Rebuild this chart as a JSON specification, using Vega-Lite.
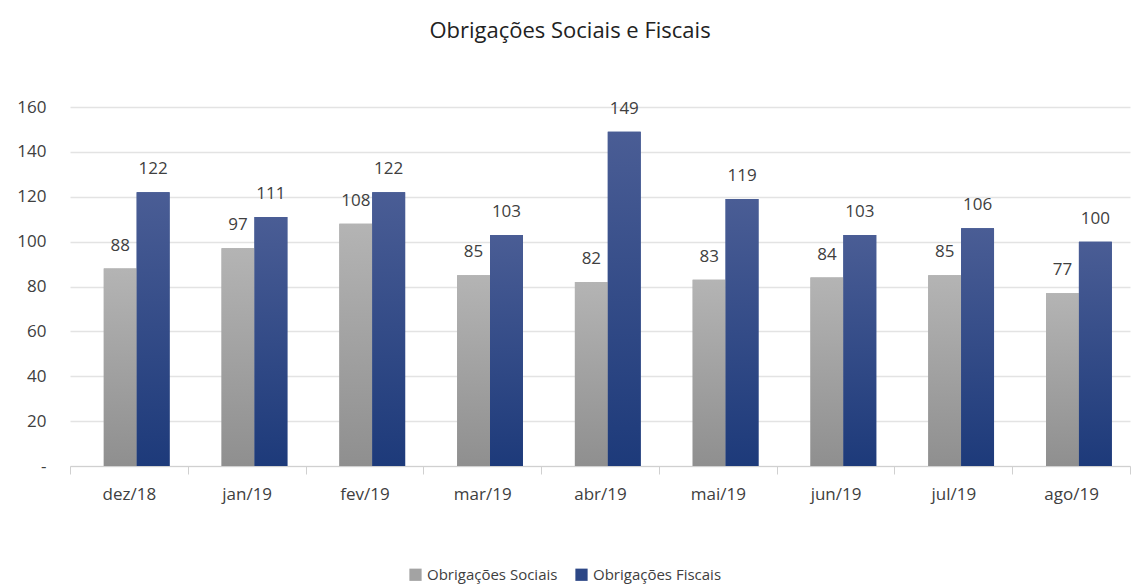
{
  "$schema": "https://vega.github.io/schema/vega-lite/v6.json",
  "autosize": {"type": "none"},
  "width": 1060,
  "height": 359,
  "padding": {"left": 70, "top": 107, "right": 10, "bottom": 120},
  "background": "white",
  "title": {
    "text": "Obrigações Sociais e Fiscais",
    "font": "Open Sans",
    "fontSize": 22,
    "fontWeight": "normal",
    "color": "#222222",
    "anchor": "middle",
    "dx": -30,
    "offset": 55
  },
  "config": {
    "view": {"stroke": null},
    "font": "Open Sans"
  },
  "data": {
    "values": [
      {"mes": "dez/18", "serie": "Obrigações Sociais", "valor": 88},
      {"mes": "dez/18", "serie": "Obrigações Fiscais", "valor": 122},
      {"mes": "jan/19", "serie": "Obrigações Sociais", "valor": 97},
      {"mes": "jan/19", "serie": "Obrigações Fiscais", "valor": 111},
      {"mes": "fev/19", "serie": "Obrigações Sociais", "valor": 108},
      {"mes": "fev/19", "serie": "Obrigações Fiscais", "valor": 122},
      {"mes": "mar/19", "serie": "Obrigações Sociais", "valor": 85},
      {"mes": "mar/19", "serie": "Obrigações Fiscais", "valor": 103},
      {"mes": "abr/19", "serie": "Obrigações Sociais", "valor": 82},
      {"mes": "abr/19", "serie": "Obrigações Fiscais", "valor": 149},
      {"mes": "mai/19", "serie": "Obrigações Sociais", "valor": 83},
      {"mes": "mai/19", "serie": "Obrigações Fiscais", "valor": 119},
      {"mes": "jun/19", "serie": "Obrigações Sociais", "valor": 84},
      {"mes": "jun/19", "serie": "Obrigações Fiscais", "valor": 103},
      {"mes": "jul/19", "serie": "Obrigações Sociais", "valor": 85},
      {"mes": "jul/19", "serie": "Obrigações Fiscais", "valor": 106},
      {"mes": "ago/19", "serie": "Obrigações Sociais", "valor": 77},
      {"mes": "ago/19", "serie": "Obrigações Fiscais", "valor": 100}
    ]
  },
  "encoding": {
    "x": {
      "field": "mes",
      "type": "nominal",
      "sort": null,
      "title": null,
      "scale": {"paddingInner": 0, "paddingOuter": 0},
      "axis": {
        "labelAngle": 0,
        "labelFont": "Open Sans",
        "labelFontSize": 17,
        "labelColor": "#404040",
        "labelPadding": 12,
        "domainColor": "#d0d0d0",
        "tickColor": "#d0d0d0",
        "tickSize": 8,
        "tickBand": "extent",
        "grid": false
      }
    },
    "xOffset": {
      "field": "serie",
      "type": "nominal",
      "sort": ["Obrigações Sociais", "Obrigações Fiscais"],
      "scale": {"domain": ["Obrigações Sociais", "Obrigações Fiscais"], "paddingInner": 0, "paddingOuter": 0.79, "align": 0.65}
    },
    "y": {
      "field": "valor",
      "type": "quantitative",
      "title": null,
      "scale": {"domain": [0, 160]},
      "axis": {
        "values": [0, 20, 40, 60, 80, 100, 120, 140, 160],
        "labelExpr": "datum.value == 0 ? '-' : datum.label",
        "labelFont": "Open Sans",
        "labelFontSize": 17,
        "labelColor": "#404040",
        "labelPadding": 24,
        "domain": false,
        "ticks": false,
        "gridColor": "#e3e3e3",
        "gridWidth": 1.5
      }
    }
  },
  "layer": [
    {
      "mark": {"type": "bar"},
      "encoding": {
        "color": {
          "field": "serie",
          "type": "nominal",
          "sort": ["Obrigações Sociais", "Obrigações Fiscais"],
          "scale": {"domain": ["Obrigações Sociais", "Obrigações Fiscais"], "range": ["#a3a3a3", "#2c4786"]},
          "legend": {
            "title": null,
            "orient": "none",
            "direction": "horizontal",
            "legendX": 338,
            "legendY": 460,
            "symbolType": "square",
            "symbolSize": 150,
            "symbolStrokeWidth": 0,
            "labelFont": "Open Sans",
            "labelFontSize": 15,
            "labelColor": "#404040",
            "columnPadding": 16,
            "labelOffset": 4
          }
        }
      }
    },
    {
      "transform": [{"filter": "datum.serie == 'Obrigações Sociais'"}],
      "mark": {
        "type": "bar",
        "fill": {
          "gradient": "linear", "x1": 0, "y1": 0, "x2": 0, "y2": 1,
          "stops": [{"offset": 0, "color": "#b4b4b4"}, {"offset": 1, "color": "#8f8f8f"}]
        }
      }
    },
    {
      "transform": [{"filter": "datum.serie == 'Obrigações Fiscais'"}],
      "mark": {
        "type": "bar",
        "fill": {
          "gradient": "linear", "x1": 0, "y1": 0, "x2": 0, "y2": 1,
          "stops": [{"offset": 0, "color": "#4a5d95"}, {"offset": 1, "color": "#1d3a7a"}]
        }
      }
    },
    {
      "mark": {
        "type": "text",
        "baseline": "bottom",
        "dy": -14,
        "font": "Open Sans",
        "fontSize": 17,
        "color": "#404040"
      },
      "encoding": {
        "text": {"field": "valor", "type": "quantitative"}
      }
    }
  ]
}
